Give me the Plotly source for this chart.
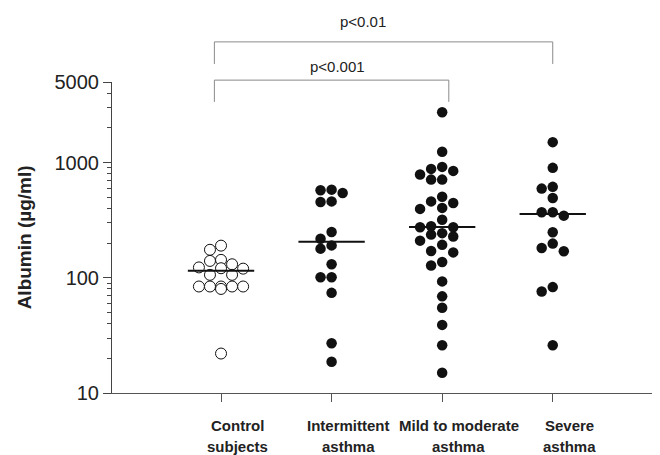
import numpy as np
import plotly.graph_objects as go

# ---------------- data ----------------
label_line1 = ["Control", "Intermittent", "Mild to moderate", "Severe"]
label_line2 = ["subjects", "asthma", "asthma", "asthma"]

control = [190, 175, 143, 140, 131, 123, 121, 120, 106, 106, 84, 84, 84, 84, 84, 80, 22]
intermittent = [582, 574, 545, 460, 455, 250, 218, 191, 179, 131, 101, 101, 74, 27, 18.7]
mild_moderate = [2735, 1240, 917, 881, 846, 787, 711, 711, 504, 460, 446, 404, 396, 319,
                 280, 274, 274, 244, 237, 228, 210, 193, 171, 166, 137, 128, 93, 69, 55,
                 39, 26, 15]
severe = [1503, 899, 615, 594, 493, 370, 370, 346, 248, 198, 181, 170, 83, 76, 26]
medians = [115, 205, 276, 358]

y_tick_vals = [10, 100, 1000, 5000]
y_minor_vals = [20, 30, 40, 50, 60, 70, 80, 90, 200, 300, 400, 500, 600, 700, 800, 900,
                2000, 3000, 4000]

comparisons = [(0, 2, "p<0.001"), (0, 3, "p<0.01")]

# ---------------- layout constants ----------------
# page body has an 8px default margin, so the figure is 8px smaller than the window
W, H = 652, 447
ML, MR, MT, MB = 104, 0, 74, 62
Y_MIN, Y_MAX = 10, 5000
X_RANGE = [-0.986, 3.97]
plot_h = H - MT - MB
plot_w = W - ML - MR
px_per_dec = plot_h / (np.log10(Y_MAX) - np.log10(Y_MIN))
px_per_cat = plot_w / (X_RANGE[1] - X_RANGE[0])


def swarm(vals, step=0.1, min_d=8.0):
    """Deterministic beeswarm: columns of width `step` (category units)."""
    vals = np.asarray(vals, dtype=float)
    ys = np.log10(vals) * px_per_dec
    order = np.argsort(-vals, kind="stable")
    cands = [0, -1, 1, -2, 2]
    placed = []
    offs = np.zeros(len(vals))
    for i in order:
        chosen, best_s, best_d = None, 0, -1.0
        for s in cands:
            d = min([abs(ys[i] - y) for (ss, y) in placed if ss == s], default=np.inf)
            if d >= min_d:
                chosen = s
                break
            if d > best_d + 1.0:
                best_d, best_s = d, s
        if chosen is None:
            chosen = best_s
        placed.append((chosen, ys[i]))
        offs[i] = chosen * step
    return offs


groups = [control, intermittent, mild_moderate, severe]

fig = go.Figure()

for gi, vals in enumerate(groups):
    offs = swarm(vals)
    xs = gi + offs
    if gi == 0:
        marker = dict(size=11, color="white", line=dict(color="#111", width=1))
    else:
        marker = dict(size=10.5, color="#111", line=dict(width=0))
    fig.add_trace(go.Scatter(x=xs, y=vals, mode="markers", marker=marker,
                             showlegend=False, hoverinfo="y"))
    # median line
    fig.add_trace(go.Scatter(x=[gi - 0.3, gi + 0.3], y=[medians[gi], medians[gi]],
                             mode="lines", line=dict(color="#111", width=2),
                             showlegend=False, hoverinfo="skip"))

# brackets
bracket_levels = [  # (top, bottom, text_y) in paper units
    (1.006, 0.936, 1.049),
    (1.129, 1.058, 1.194),
]
label_x = [1.05, 1.28]
for k, (a, b, txt) in enumerate(comparisons):
    top, bot, ty = bracket_levels[k]
    xl = a - 0.06
    xr = b + (0.06 if k == 0 else 0.0)
    for (x0, y0, x1, y1) in [(xl, bot, xl, top), (xl, top, xr, top), (xr, top, xr, bot)]:
        fig.add_shape(type="line", xref="x", yref="paper", x0=x0, y0=y0, x1=x1, y1=y1,
                      line=dict(color="#8a8a8a", width=1))
    fig.add_annotation(x=label_x[k], y=ty, xref="x", yref="paper", text=txt,
                       showarrow=False, font=dict(size=15, color="#222"),
                       xanchor="center", yanchor="middle")

# category labels (two lines)
for gi in range(len(groups)):
    fig.add_annotation(x=gi + 0.15, y=-0.105, xref="x", yref="paper",
                       text="<b>%s</b>" % label_line1[gi], showarrow=False,
                       font=dict(size=15, color="#222"), xanchor="center", yanchor="middle")
    fig.add_annotation(x=gi + 0.15, y=-0.172, xref="x", yref="paper",
                       text="<b>%s</b>" % label_line2[gi], showarrow=False,
                       font=dict(size=15, color="#222"), xanchor="center", yanchor="middle")

# y title
fig.add_annotation(x=-0.159, y=0.5, xref="paper", yref="paper",
                   text="<b>Albumin (µg/ml)</b>", textangle=-90, showarrow=False,
                   font=dict(size=19, color="#222"), xanchor="center", yanchor="middle")

fig.update_layout(
    width=W, height=H,
    margin=dict(l=ML, r=MR, t=MT, b=MB, autoexpand=False),
    paper_bgcolor="white", plot_bgcolor="white",
    font=dict(family="Liberation Sans, Arial, sans-serif", color="#222"),
    xaxis=dict(range=X_RANGE, showgrid=False, zeroline=False,
               tickvals=list(range(len(groups))), ticktext=[""] * len(groups),
               ticks="outside", ticklen=8, tickcolor="#555", tickwidth=1,
               showline=True, linecolor="#555", linewidth=1),
    yaxis=dict(type="log", range=[np.log10(Y_MIN), np.log10(Y_MAX)],
               showgrid=False, zeroline=False,
               tickvals=y_tick_vals, ticktext=[str(v) for v in y_tick_vals],
               ticks="outside", ticklen=8, tickcolor="#444", tickwidth=1,
               tickfont=dict(size=20, color="#222"),
               minor=dict(tickvals=y_minor_vals, ticks="outside", ticklen=4,
                          tickcolor="#444", tickwidth=1, showgrid=False),
               showline=True, linecolor="#444", linewidth=1),
)

fig.write_html("out.html")
